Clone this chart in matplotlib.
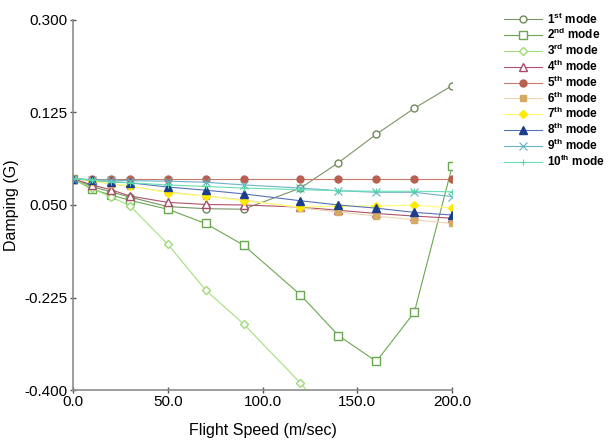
import matplotlib
matplotlib.use("Agg")
import matplotlib.pyplot as plt

plt.rcParams['font.family'] = ['Liberation Sans', 'DejaVu Sans']
plt.rcParams['mathtext.fontset'] = 'custom'
plt.rcParams['mathtext.rm'] = 'Liberation Sans'
plt.rcParams['mathtext.bf'] = 'Liberation Sans:bold'

# flight speed (m/sec)
speed = [0, 10, 20, 30, 50, 70, 90, 120, 140, 160, 180, 200]

# damping per mode
mode1 = [0.0, -0.015, -0.025, -0.035, -0.053, -0.057, -0.058, -0.018, 0.030, 0.084, 0.133, 0.176]
mode2 = [0.0, -0.020, -0.031, -0.041, -0.058, -0.085, -0.126, -0.220, -0.297, -0.346, -0.253, 0.024]
mode3 = [0.0, -0.018, -0.035, -0.051, -0.124, -0.211, -0.275, -0.387, -0.470]
mode4 = [0.0, -0.012, -0.021, -0.033, -0.045, -0.049, -0.050, -0.054, -0.060, -0.066, -0.071, -0.075]
mode5 = [0.0, 0.0, 0.0, 0.0, 0.0, 0.0, 0.0, 0.0, 0.0, 0.0, 0.0, 0.0]
mode6 = [0.0, -0.005, -0.010, -0.015, -0.025, -0.033, -0.040, -0.056, -0.063, -0.071, -0.078, -0.085]
mode7 = [0.0, -0.004, -0.009, -0.014, -0.027, -0.033, -0.042, -0.054, -0.052, -0.052, -0.050, -0.056]
mode8 = [0.0, -0.003, -0.006, -0.008, -0.016, -0.022, -0.029, -0.042, -0.050, -0.056, -0.064, -0.069]
mode9 = [0.0, -0.002, -0.003, -0.004, -0.005, -0.007, -0.012, -0.018, -0.023, -0.026, -0.026, -0.034]
mode10 = [0.0, -0.003, -0.006, -0.008, -0.012, -0.015, -0.018, -0.021, -0.023, -0.024, -0.024, -0.025]

labels = [r"1$^{\mathbf{st}}$ mode", r"2$^{\mathbf{nd}}$ mode", r"3$^{\mathbf{rd}}$ mode",
          r"4$^{\mathbf{th}}$ mode", r"5$^{\mathbf{th}}$ mode", r"6$^{\mathbf{th}}$ mode",
          r"7$^{\mathbf{th}}$ mode", r"8$^{\mathbf{th}}$ mode", r"9$^{\mathbf{th}}$ mode",
          r"10$^{\mathbf{th}}$ mode"]

yticks = [0.3, 0.125, -0.05, -0.225, -0.4]
ytick_labels = ["0.300", "0.125", "0.050", "-0.225", "-0.400"]
xticks = [0, 50, 100, 150, 200]
xtick_labels = ["0.0", "50.0", "100.0", "150.0", "200.0"]

fig = plt.figure(figsize=(6.12, 4.44), dpi=100)
ax = fig.add_axes([0.119, 0.1216, 0.62, 0.8334])

lw = 0.8
ms = 5
ax.plot(speed, mode1, color='#7a9466', lw=lw, marker='o', ms=ms, mfc='white', mec='#6e8a5a', label=labels[0])
ax.plot(speed, mode2, color='#6aa84f', lw=lw, marker='s', ms=ms + 0.5, mfc='white', mec='#6aa84f', label=labels[1])
ax.plot(speed[:len(mode3)], mode3, color='#a3e07e', lw=lw, marker='D', ms=ms - 1, mfc='white', mec='#9ed977', label=labels[2])
ax.plot(speed, mode4, color='#b0506e', lw=lw, marker='^', ms=ms + 0.5, mfc='white', mec='#a84a68', label=labels[3])
ax.plot(speed, mode5, color='#c8796a', lw=lw, marker='o', ms=ms, mfc='#b8604f', mec='#b8604f', label=labels[4])
ax.plot(speed, mode6, color='#ecd6ae', lw=lw, marker='s', ms=ms, mfc='#d6aa62', mec='#d6aa62', label=labels[5])
ax.plot(speed, mode7, color='#ffff70', lw=lw, marker='D', ms=ms - 1, mfc='#ffea00', mec='#ffea00', label=labels[6])
ax.plot(speed, mode8, color='#5673b8', lw=lw, marker='^', ms=ms + 0.5, mfc='#1c3d8c', mec='#1c3d8c', label=labels[7])
ax.plot(speed, mode9, color='#6ab4c8', lw=lw, marker='x', ms=ms + 1, mew=0.8, mec='#5fb0c4', label=labels[8])
ax.plot(speed, mode10, color='#66e0b4', lw=lw, marker='+', ms=ms, mew=0.8, mec='#55d6a8', label=labels[9])

ax.set_xlim(0, 200)
ax.set_ylim(-0.4, 0.3)
ax.set_xticks(xticks)
ax.set_xticklabels(xtick_labels)
ax.set_yticks(yticks)
ax.set_yticklabels(ytick_labels)

for side in ['top', 'right']:
    ax.spines[side].set_visible(False)
for side in ['left', 'bottom']:
    ax.spines[side].set_color('#8c8c8c')
    ax.spines[side].set_linewidth(1.2)
ax.tick_params(direction='inout', length=5, width=1, color='#555555', labelsize=11, pad=1)

ax.set_xlabel("Flight Speed (m/sec)", fontsize=11.5, labelpad=10)
ax.set_ylabel("Damping (G)", fontsize=11.5, labelpad=4)

fig.legend(loc='upper left', bbox_to_anchor=(0.815, 0.985), frameon=False,
           prop={'weight': 'bold', 'size': 8.5}, handlelength=3.3, handletextpad=0.4,
           labelspacing=0.05, borderaxespad=0)

fig.savefig("out.png", dpi=100)
